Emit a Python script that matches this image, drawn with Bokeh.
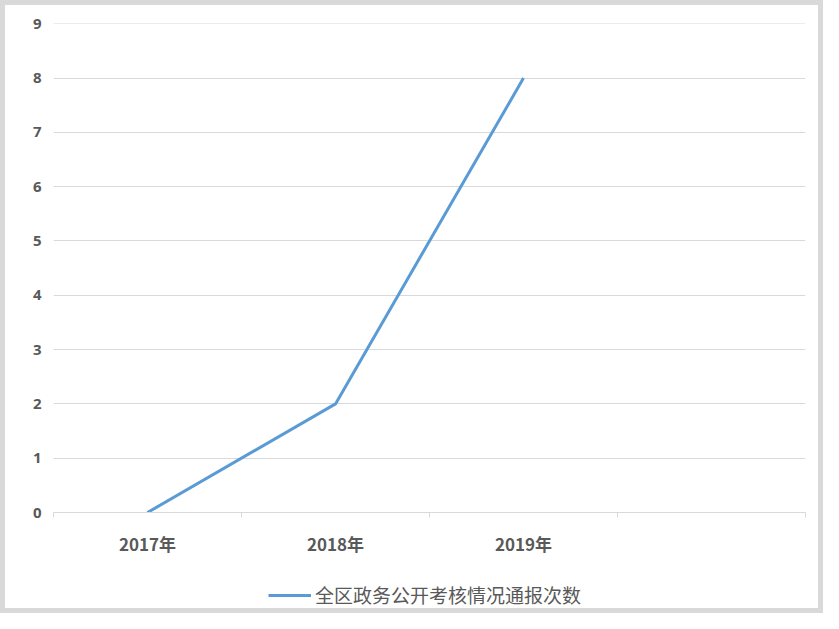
from bokeh.plotting import figure
from bokeh.models import FixedTicker, Range1d, Legend, LegendItem
from bokeh.layouts import column
from bokeh.embed import file_html
from bokeh.resources import INLINE

categories = ["2017年", "2018年", "2019年"]
values = [0, 2, 8]
y_ticks = [0, 1, 2, 3, 4, 5, 6, 7, 8, 9]
series_name = "全区政务公开考核情况通报次数"
n_slots = 4  # category slots on the axis (last one empty)

FONT = "Open Sans"
CJK = "Noto Sans CJK SC"
TXT = "#595959"
GRID = "#d9d9d9"
LINE = "#5b9bd5"

xs = [i + 0.5 for i in range(len(categories))]

p = figure(width=813, height=553, output_backend="svg", toolbar_location=None,
           x_range=Range1d(0, n_slots), y_range=Range1d(0, 9.005),
           min_border_left=48, min_border_right=13, min_border_top=18,
           min_border_bottom=44)
p.outline_line_color = None
p.background_fill_color = "white"
p.border_fill_color = "white"

r = p.line(xs, values, line_color=LINE, line_width=3)

# y axis
p.yaxis.ticker = FixedTicker(ticks=y_ticks)
p.yaxis.axis_line_color = None
p.yaxis.major_tick_line_color = None
p.yaxis.minor_tick_line_color = None
p.yaxis.major_tick_out = 0
p.yaxis.major_label_standoff = 12
p.yaxis.major_label_text_font = FONT
p.yaxis.major_label_text_font_size = "15px"
p.yaxis.major_label_text_font_style = "bold"
p.yaxis.major_label_text_color = TXT

# x axis
p.xaxis.ticker = FixedTicker(ticks=xs + [len(categories) + 0.5],
                             minor_ticks=list(range(n_slots + 1)))
p.xaxis.major_label_overrides = {x: c for x, c in zip(xs, categories)}
p.xaxis.major_label_overrides[len(categories) + 0.5] = ""
p.xaxis.axis_line_color = GRID
p.xaxis.major_tick_line_color = None
p.xaxis.major_tick_out = 0
p.xaxis.major_tick_in = 0
p.xaxis.minor_tick_line_color = GRID
p.xaxis.minor_tick_out = 5
p.xaxis.minor_tick_in = 0
p.xaxis.major_label_standoff = 13
p.xaxis.major_label_text_font = CJK
p.xaxis.major_label_text_font_size = "17px"
p.xaxis.major_label_text_font_style = "bold"
p.xaxis.major_label_text_color = TXT

p.xgrid.grid_line_color = None
p.ygrid.ticker = FixedTicker(ticks=y_ticks)
p.ygrid.grid_line_color = GRID
p.ygrid.grid_line_width = 1

# legend strip below the chart (its own data view is kept off-screen)
lf = figure(width=813, height=50, output_backend="svg", toolbar_location=None,
            x_range=Range1d(-20, -19), y_range=Range1d(-20, -19),
            x_axis_location=None, y_axis_location=None, min_border=0)
lf.grid.visible = False
lf.outline_line_color = None
lf.border_fill_color = "white"
lr = lf.line(xs, values, line_color=LINE, line_width=3)

legend = Legend(items=[LegendItem(label=series_name, renderers=[lr])],
                location=(215, 0), orientation="horizontal",
                label_text_font=CJK, label_text_font_size="19px",
                label_text_color=TXT, glyph_width=43, glyph_height=22,
                border_line_color=None, background_fill_alpha=0,
                padding=0, margin=0, label_standoff=4)
lf.add_layout(legend, "center")

layout = column(p, lf, spacing=0, styles={"border": "5px solid #d9d9d9"})

open("out.html", "w").write(file_html(layout, INLINE))
